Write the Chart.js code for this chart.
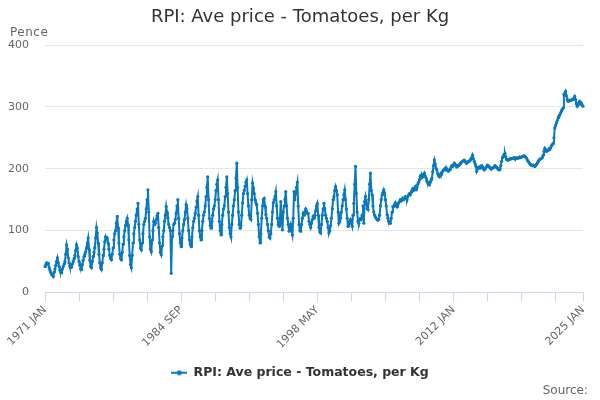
<!DOCTYPE html>
<html>
<head>
<meta charset="utf-8">
<script src="https://cdn.jsdelivr.net/npm/chart.js@4"></script>
<style>
  html, body { margin: 0; padding: 0; background: #ffffff; }
  #wrap { width: 600px; height: 400px; }
</style>
</head>
<body>
<div id="wrap"><canvas id="c" width="600" height="400"></canvas></div>
<script>
// ---- data (pence per kg, monthly, 1971 JAN .. 2025 JAN) ----
const years = [1971,1972,1973,1974,1975,1976,1977,1978,1979,1980,1981,1982,1983,1984,1985,1986,1987,1988,1989,1990,
  1991,1992,1993,1994,1995,1996,1997,1998,1999,2000,2001,2002,2003,2004,2005,2006,2007,2008,2009,2010,
  2011,2012,2013,2014,2015,2016,2017,2018,2019,2020,2021,2022,2023,2024,2025];
const monthNames = ['JAN','FEB','MAR','APR','MAY','JUN','JUL','AUG','SEP','OCT','NOV','DEC'];

const prices1970s = [
  42,45,48,46,47,40,36,32,30,28,26,33,
  38,44,50,56,48,42,36,33,32,38,42,46,
  50,62,77,70,56,48,42,40,41,46,50,55,
  60,68,77,72,58,50,44,38,37,45,52,58,
  62,66,72,80,88,70,52,42,40,50,58,65,
  72,88,105,96,80,62,48,40,37,48,60,70,
  82,90,86,88,80,70,60,55,53,62,72,85,
  95,100,112,123,105,80,62,55,53,65,78,90,
  100,108,115,120,110,85,60,45,40,60,80,95
];
const prices1980s = [
  105,115,125,135,144,110,85,72,69,80,95,110,
  115,120,135,150,166,130,90,70,66,85,100,115,
  110,112,118,124,128,105,80,65,61,75,90,100,
  115,125,139,130,120,110,105,100,31,90,100,110,
  112,118,128,140,150,120,95,80,74,88,100,110,
  118,130,142,135,120,100,85,78,74,90,105,115,
  120,128,138,148,155,125,100,90,85,100,115,125,
  130,140,155,170,187,150,120,108,104,115,125,135,
  140,150,165,175,182,150,115,100,93,110,125,135,
  140,155,170,187,160,130,105,95,90,110,125,140
];
const prices1990s = [
  150,165,185,209,170,130,110,104,108,125,145,160,
  165,172,178,182,160,140,125,120,118,150,177,169,
  160,150,145,142,128,110,90,80,95,120,140,150,
  152,140,126,120,110,100,90,88,95,110,130,145,
  150,155,163,140,120,110,107,120,147,120,101,130,
  140,150,163,140,120,110,99,105,110,100,93,120,
  163,150,160,170,178,140,110,100,99,110,120,128,
  125,130,135,132,128,128,115,110,105,112,118,123,
  120,125,132,140,144,125,105,98,96,110,125,135,
  144,135,125,120,115,105,96,100,108,120,135,150
];
const prices2000s = [
  155,165,171,165,158,130,112,115,120,130,140,150,
  158,166,150,135,120,107,110,115,118,112,107,125,
  144,175,204,160,130,115,112,118,120,118,125,140,
  112,147,155,145,136,134,150,175,193,165,158,140,
  130,125,122,120,118,117,118,125,140,150,158,162,
  166,161,150,140,126,120,115,112,112,120,130,139,
  139,142,145,140,138,142,145,147,150,148,150,152,
  150,152,155,152,150,155,158,160,158,162,165,168,
  165,168,171,166,170,175,178,182,188,185,190,187,
  190,193,188,185,180,178,176,174,178,182,185,195
];
const prices2010s = [
  205,214,208,201,198,192,189,187,190,193,192,196,
  198,199,201,198,200,197,196,198,199,202,205,204,
  206,209,207,205,203,204,206,206,208,210,211,212,
  213,214,212,210,209,211,212,212,214,216,218,222,
  216,212,208,204,196,200,202,203,201,204,205,203,
  200,198,200,202,204,206,205,203,202,200,201,201,
  202,203,205,204,202,201,199,198,200,205,212,218,
  220,223,225,219,215,214,214,215,216,217,216,217,
  217,218,216,217,218,217,217,218,219,218,219,220,
  220,221,220,219,217,214,212,210,208,207,206,205
];
const prices2020s = [
  206,205,204,205,207,209,212,214,215,216,217,218,
  222,228,233,230,228,229,230,232,231,234,237,239,
  241,250,266,270,274,278,282,285,287,290,293,296,
  298,320,322,325,318,312,309,310,311,310,311,312,
  312,314,317,312,305,301,304,307,309,305,306,303,
  301
];
const tickLabels = ['1971 JAN','1984 SEP','1998 MAY','2012 JAN','2025 JAN'];
const yTicks = [0,100,200,300,400];
const seriesName = 'RPI: Ave price - Tomatoes, per Kg';

// ---- build categories and values ----
const categories = [];
years.forEach(y => monthNames.forEach(m => categories.push(y + ' ' + m)));
const prices = [].concat(prices1970s, prices1980s, prices1990s, prices2000s, prices2010s, prices2020s);
categories.length = prices.length;

const lineColor = '#0a78bd';

// legend symbol: short line with a dot
const sym = document.createElement('canvas');
sym.width = 16; sym.height = 6;
(function(){
  const g = sym.getContext('2d');
  g.strokeStyle = lineColor; g.lineWidth = 2;
  g.beginPath(); g.moveTo(0,3); g.lineTo(16,3); g.stroke();
  g.fillStyle = lineColor; g.beginPath(); g.arc(8,3,2.5,0,Math.PI*2); g.fill();
})();

const extraText = {
  id: 'extraText',
  afterDraw(chart) {
    const ctx = chart.ctx;
    ctx.save();
    ctx.fillStyle = '#666666';
    ctx.font = '12px "DejaVu Sans"';
    ctx.textBaseline = 'alphabetic';
    ctx.textAlign = 'left';
    try { ctx.letterSpacing = '0.5px'; } catch (e) {}
    ctx.fillText('Pence', 10, 36);
    try { ctx.letterSpacing = '0px'; } catch (e) {}
    ctx.textAlign = 'right';
    ctx.fillText('Source:', 588, 394);
    ctx.restore();
  }
};

new Chart(document.getElementById('c'), {
  type: 'line',
  data: {
    labels: categories,
    datasets: [{
      label: seriesName,
      data: prices,
      borderColor: lineColor,
      backgroundColor: lineColor,
      borderWidth: 2,
      pointRadius: 1.6,
      pointBorderWidth: 0,
      pointBackgroundColor: lineColor,
      tension: 0,
      fill: false
    }]
  },
  options: {
    responsive: false,
    animation: false,
    events: [],
    layout: { padding: { left: 0, right: 0, top: 0, bottom: 11 } },
    plugins: {
      title: {
        display: true,
        text: seriesName,
        color: '#333333',
        font: { family: 'DejaVu Sans', size: 18, weight: 'normal' },
        padding: { top: 7, bottom: 16.4 }
      },
      legend: {
        display: true,
        position: 'bottom',
        labels: {
          color: '#333333',
          font: { family: 'DejaVu Sans', size: 12.5, weight: 'bold' },
          usePointStyle: true,
          pointStyle: sym,
          pointStyleWidth: 16,
          boxWidth: 16,
          padding: 10
        }
      },
      tooltip: { enabled: false }
    },
    scales: {
      x: {
        type: 'category',
        offset: false,
        afterFit(scale) { scale.height = 64; scale.paddingRight = 17; },
        grid: {
          display: true,
          drawOnChartArea: false,
          drawTicks: true,
          tickLength: 9,
          tickColor: (ctx) => (ctx.index % 41 === 0 || ctx.index === prices.length - 1) ? '#ccd6eb' : 'rgba(0,0,0,0)',
          color: 'rgba(0,0,0,0)'
        },
        border: { display: true, color: '#ccd6eb', width: 1 },
        ticks: {
          autoSkip: false,
          maxRotation: 45,
          minRotation: 45,
          padding: 2,
          color: '#666666',
          font: { family: 'DejaVu Sans', size: 11 },
          callback: function(value, index) {
            const lab = categories[index];
            return tickLabels.includes(lab) ? lab : '';
          }
        }
      },
      y: {
        min: 0,
        max: 400,
        afterFit(scale) { scale.width = 45; },
        afterBuildTicks(scale) { scale.ticks = yTicks.map(v => ({ value: v })); },
        grid: { color: '#e6e6e6', drawTicks: false, lineWidth: 1 },
        border: { display: false },
        ticks: {
          padding: 16,
          color: '#666666',
          font: { family: 'DejaVu Sans', size: 11 }
        }
      }
    }
  },
  plugins: [extraText]
});
</script>
</body>
</html>
